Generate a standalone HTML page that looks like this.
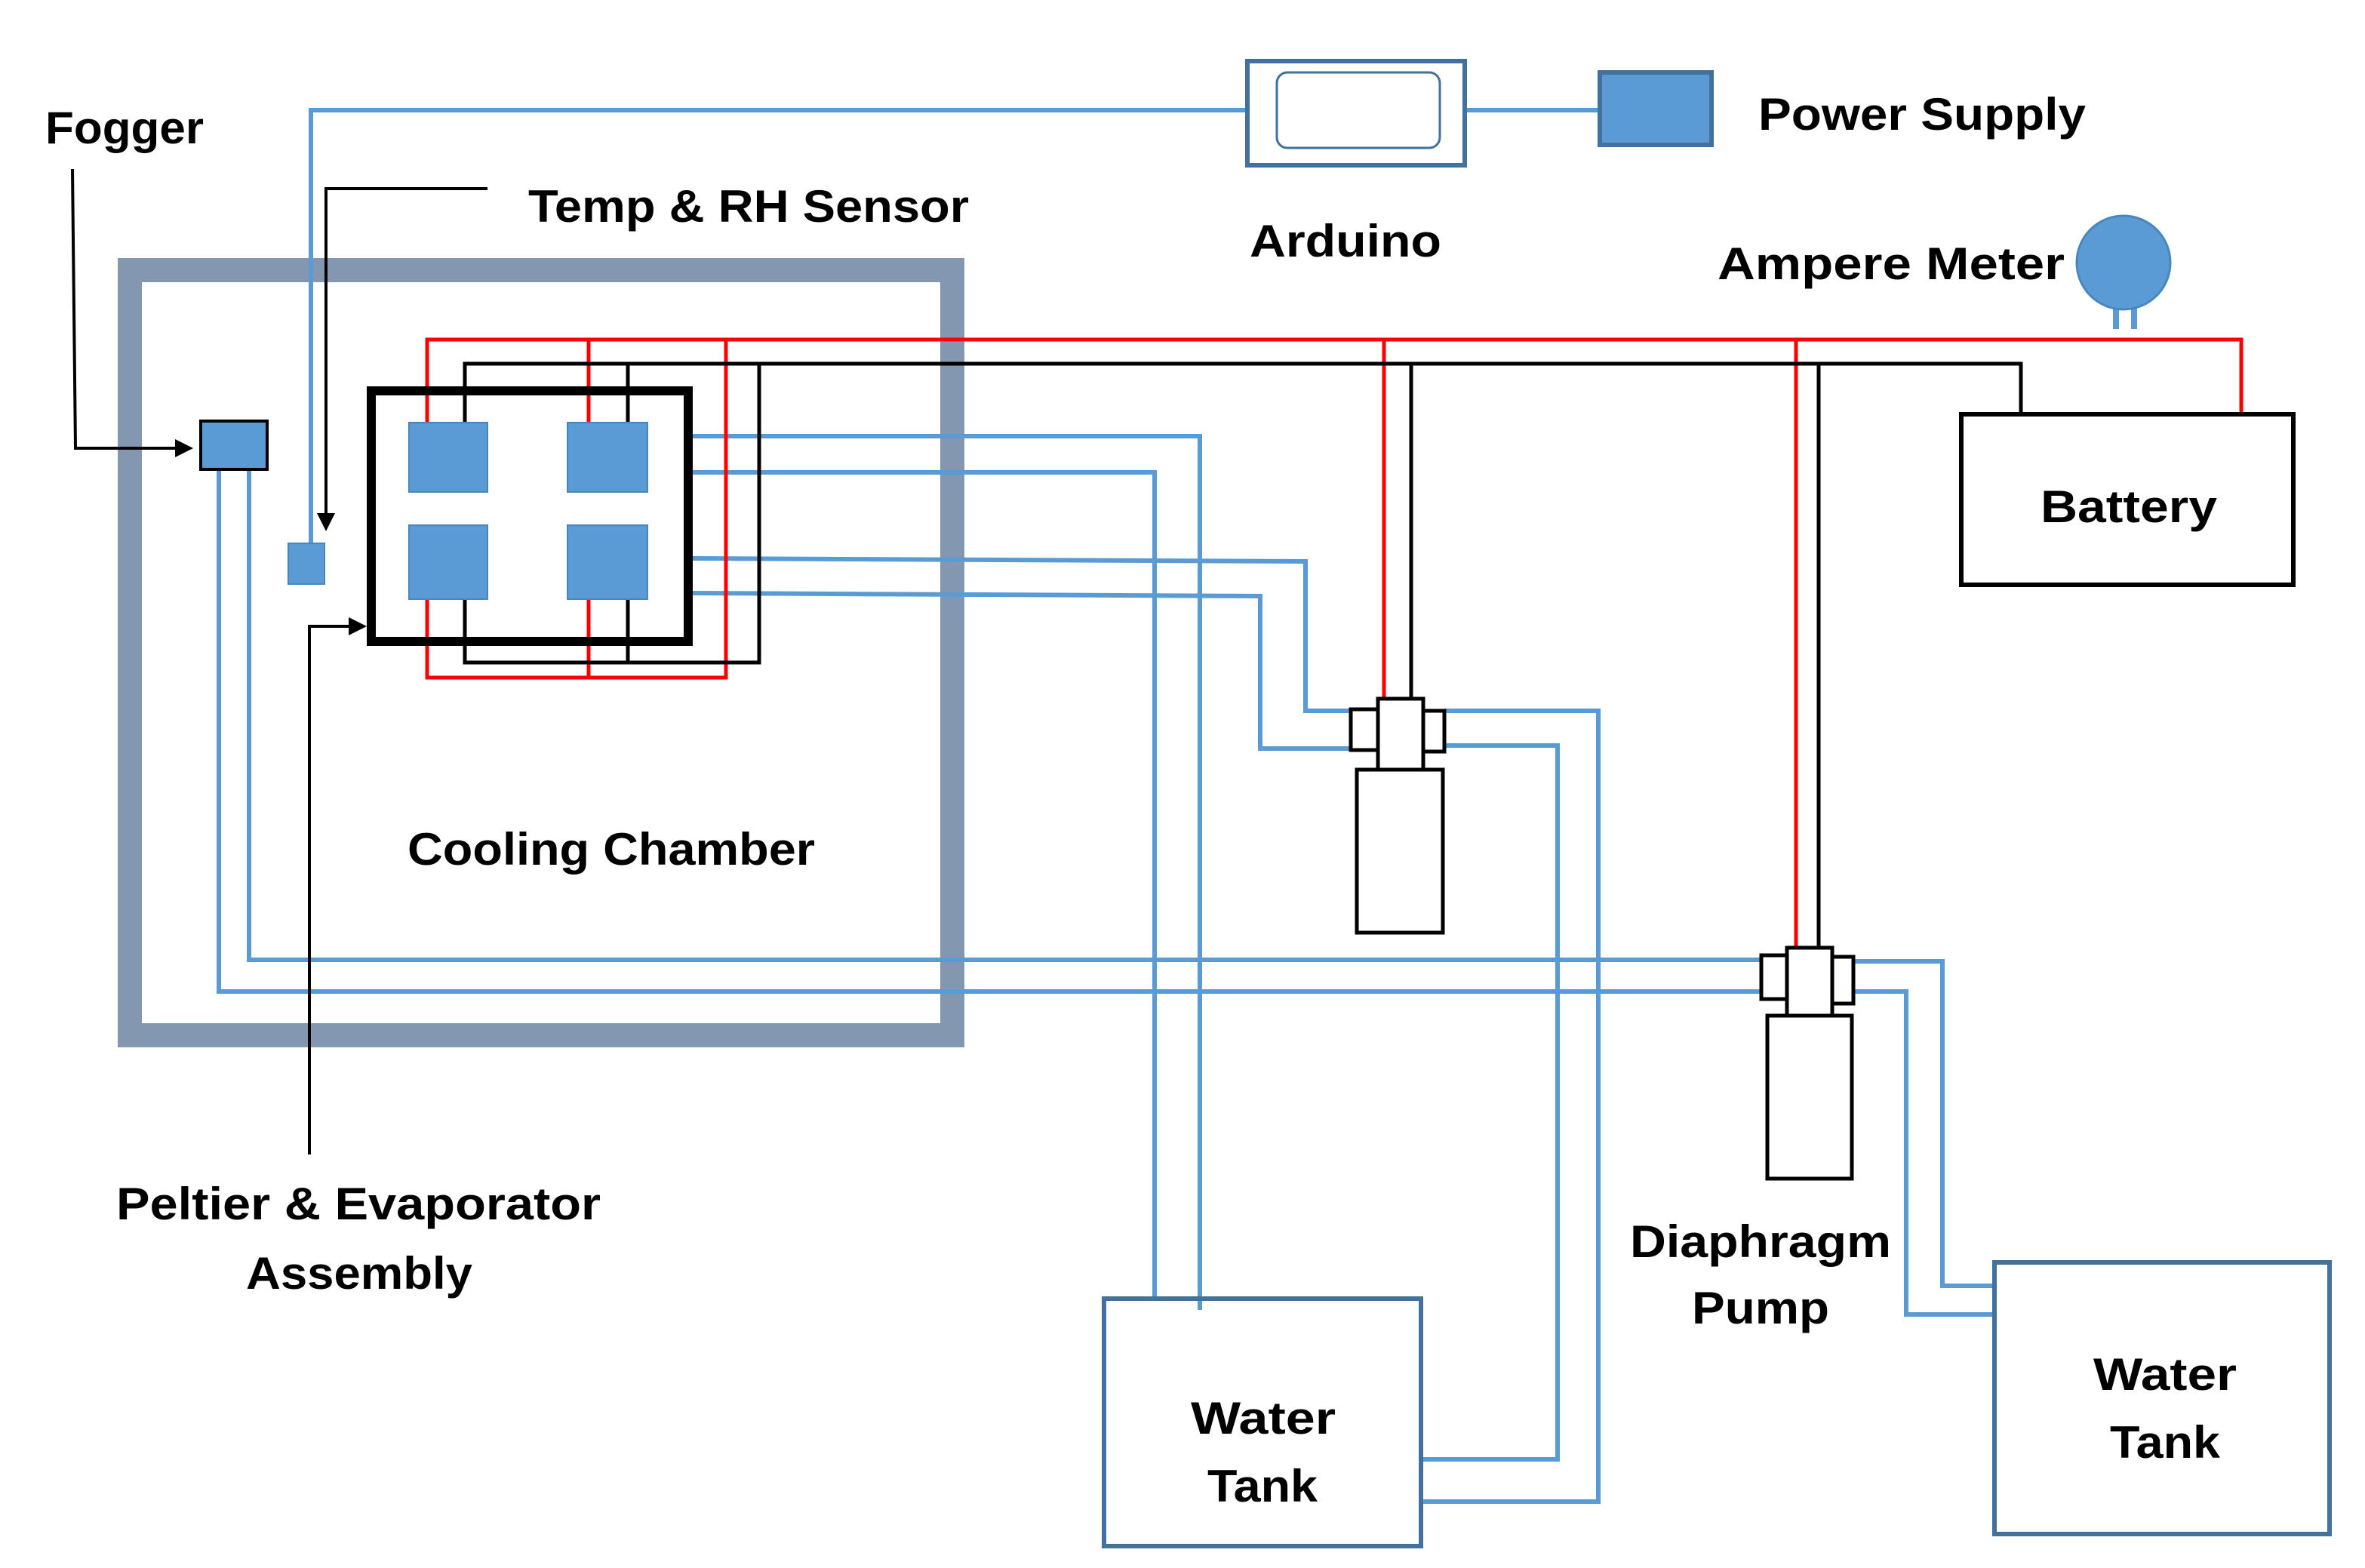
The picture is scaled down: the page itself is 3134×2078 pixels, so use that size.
<!DOCTYPE html>
<html><head><style>html,body{margin:0;padding:0;background:#fff}svg{display:block}</style></head><body>
<svg width="3134" height="2078" viewBox="0 0 1567 1039" xmlns="http://www.w3.org/2000/svg">
<defs><marker id="ar" markerWidth="12" markerHeight="12" refX="10" refY="6" orient="auto" markerUnits="userSpaceOnUse"><path d="M0,0 L12,6 L0,12 z" fill="#000"/></marker></defs>
<rect width="1567" height="1039" fill="#fff"/>
<rect x="86" y="179" width="545" height="507" fill="none" stroke="#8497b0" stroke-width="16"/>
<g fill="none" stroke="#5b9bd5" stroke-width="3">
<polyline points="825,73 206,73 206,360"/>
<line x1="971" y1="73" x2="1060" y2="73"/>
<polyline points="459,289 795,289 795,868"/>
<polyline points="459,313 765,313 765,862"/>
<polyline points="459,370 865,372 865,471 895,471"/>
<polyline points="459,393 835,395 835,496 895,496"/>
<polyline points="957,471 1059,471 1059,995 942,995"/>
<polyline points="957,494 1032,494 1032,967 942,967"/>
<polyline points="145,312 145,657 1167,657"/>
<polyline points="165,312 165,636 1167,636"/>
<polyline points="1228,637 1287,637 1287,852 1321,852"/>
<polyline points="1228,657 1263,657 1263,871 1321,871"/>
</g>
<g fill="none" stroke="#ff0000" stroke-width="2.5">
<polyline points="283,280 283,225 1485,225 1485,273"/>
<line x1="390" y1="225" x2="390" y2="280"/>
<polyline points="481,225 481,449 283,449 283,397"/>
<line x1="390" y1="449" x2="390" y2="397"/>
<line x1="917" y1="225" x2="917" y2="463"/>
<line x1="1190" y1="225" x2="1190" y2="628"/>
</g>
<g fill="none" stroke="#000" stroke-width="2.5">
<polyline points="308,280 308,241 1339,241 1339,277"/>
<line x1="416" y1="241" x2="416" y2="280"/>
<polyline points="503,241 503,439 308,439 308,397"/>
<line x1="416" y1="439" x2="416" y2="397"/>
<line x1="935" y1="241" x2="935" y2="463"/>
<line x1="1205" y1="241" x2="1205" y2="628"/>
</g>
<rect x="246" y="259" width="210" height="166" fill="none" stroke="#000" stroke-width="6"/>
<g fill="#5b9bd5" stroke="#4a86be" stroke-width="1">
<rect x="271" y="280" width="52" height="46"/><rect x="376" y="280" width="53" height="46"/>
<rect x="271" y="348" width="52" height="49"/><rect x="376" y="348" width="53" height="49"/>
<rect x="191" y="360" width="24" height="27"/>
</g>
<rect x="133" y="279" width="44" height="32" fill="#5b9bd5" stroke="#000" stroke-width="2"/>
<g fill="none" stroke="#000" stroke-width="2">
<polyline points="48,112 50,297 126,297" marker-end="url(#ar)"/>
<polyline points="323,125 216,125 216,350" marker-end="url(#ar)"/>
<polyline points="205,765 205,415 241,415" marker-end="url(#ar)"/>
</g>
<rect x="826.5" y="40.5" width="144" height="69" fill="#fff" stroke="#41719c" stroke-width="3"/>
<rect x="846" y="48" width="108" height="50" rx="7" fill="#fff" stroke="#41719c" stroke-width="1.5"/>
<rect x="1060" y="48" width="74" height="48" fill="#5b9bd5" stroke="#41719c" stroke-width="3"/>
<line x1="1402" y1="200" x2="1402" y2="218" stroke="#5b9bd5" stroke-width="4"/>
<line x1="1414" y1="200" x2="1414" y2="218" stroke="#5b9bd5" stroke-width="4"/>
<circle cx="1407" cy="174" r="31" fill="#5b9bd5" stroke="#4a86be" stroke-width="1.5"/>
<rect x="1299.5" y="274.5" width="220" height="113" fill="#fff" stroke="#000" stroke-width="3"/>
<g fill="#fff" stroke="#000" stroke-width="2.5">
<rect x="895" y="470" width="18" height="27"/><rect x="943" y="471" width="14" height="27"/>
<rect x="913" y="463" width="30" height="47"/><rect x="899" y="510" width="57" height="108"/>
<rect x="1167" y="633" width="17" height="29"/><rect x="1214" y="634" width="14" height="31"/>
<rect x="1184" y="628" width="30" height="45"/><rect x="1171" y="673" width="56" height="108"/>
</g>
<rect x="731.5" y="860.5" width="210" height="164" fill="none" stroke="#41719c" stroke-width="3"/>
<rect x="1321.5" y="836.5" width="222" height="180" fill="none" stroke="#41719c" stroke-width="3"/>
<g font-family="Liberation Sans, sans-serif" font-weight="bold" font-size="30" fill="#000">
<text x="30" y="95" textLength="105" lengthAdjust="spacingAndGlyphs">Fogger</text>
<text x="350" y="147" textLength="292" lengthAdjust="spacingAndGlyphs">Temp &amp; RH Sensor</text>
<text x="828" y="170" textLength="127" lengthAdjust="spacingAndGlyphs">Arduino</text>
<text x="1165" y="86" textLength="217" lengthAdjust="spacingAndGlyphs">Power Supply</text>
<text x="1138" y="185" textLength="230" lengthAdjust="spacingAndGlyphs">Ampere Meter</text>
<text x="1352" y="346" textLength="117" lengthAdjust="spacingAndGlyphs">Battery</text>
<text x="270" y="573" textLength="270" lengthAdjust="spacingAndGlyphs">Cooling Chamber</text>
<text x="77" y="808" textLength="321" lengthAdjust="spacingAndGlyphs">Peltier &amp; Evaporator</text>
<text x="163" y="854" textLength="150" lengthAdjust="spacingAndGlyphs">Assembly</text>
<text x="1080" y="833" textLength="173" lengthAdjust="spacingAndGlyphs">Diaphragm</text>
<text x="1121" y="877" textLength="91" lengthAdjust="spacingAndGlyphs">Pump</text>
<text x="789" y="950" textLength="96" lengthAdjust="spacingAndGlyphs">Water</text>
<text x="800" y="995" textLength="73" lengthAdjust="spacingAndGlyphs">Tank</text>
<text x="1387" y="921" textLength="95" lengthAdjust="spacingAndGlyphs">Water</text>
<text x="1398" y="966" textLength="73" lengthAdjust="spacingAndGlyphs">Tank</text>
</g>
</svg>
</body></html>
